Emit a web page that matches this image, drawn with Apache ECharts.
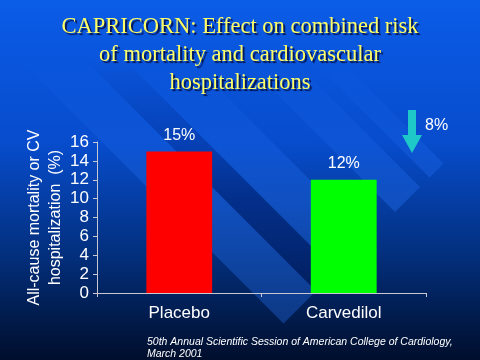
<!DOCTYPE html>
<html>
<head>
<meta charset="utf-8">
<script src="https://cdn.jsdelivr.net/npm/echarts@6/dist/echarts.min.js"></script>
<style>
html,body{margin:0;padding:0;background:#001030;}
#chart{width:480px;height:360px;}
</style>
</head>
<body>
<div id="chart"></div>
<script>
var titleLines = ['CAPRICORN: Effect on combined risk', 'of mortality and cardiovascular', 'hospitalizations'];
var categories = ['Placebo', 'Carvedilol'];
var values = [15, 12];
var barColors = ['#ff0000', '#00ff00'];
var yAxisName = 'All-cause mortality or CV\nhospitalization  (%)';
var reductionText = '8%';
var footnoteLines = ['50th Annual Scientific Session of American College of Cardiology,', 'March 2001'];

function fade(r, g, b, a) {
  return new echarts.graphic.LinearGradient(0, 60, 0, 200, [
    { offset: 0, color: 'rgba(' + r + ',' + g + ',' + b + ',0)' },
    { offset: 1, color: 'rgba(' + r + ',' + g + ',' + b + ',' + a + ')' }], true);
}
// decorative diagonal background stripes (c = y - x bands, ending on x + y = S)
function stripe(c1, c2, S, fill) {
  var pts = [[-400, -400 + c1], [(S - c1) / 2, (S + c1) / 2], [(S - c2) / 2, (S + c2) / 2], [-400, -400 + c2]];
  return { type: 'polygon', silent: true, z: -10, shape: { points: pts }, style: { fill: fill } };
}
var S = 607;
var graphics = [
  { type: 'rect', silent: true, z: -20, shape: { x: 0, y: 0, width: 480, height: 360 },
    style: { fill: new echarts.graphic.LinearGradient(0, 0, 0, 1, [
      { offset: 0, color: '#0b5ce8' },
      { offset: 0.4, color: '#074ccc' },
      { offset: 0.7, color: '#03307f' },
      { offset: 1, color: '#000e2c' }]) } },
  stripe(-25, 40, S, fade(40, 120, 255, 0.32)),
  stripe(-65, -25, S, fade(0, 20, 90, 0.35)),
  stripe(-130, -65, S, fade(40, 120, 255, 0.32)),
  stripe(-233, -183, S, fade(40, 120, 255, 0.32)),
  stripe(-280, -252, S, fade(40, 120, 255, 0.32)),
  // arrow annotation
  { type: 'polygon', z: 10, shape: { points: [[408, 110], [416, 110], [416, 135], [422, 135], [412, 153], [402, 135], [408, 135]] },
    style: { fill: '#1ec8c8' } },
  { type: 'text', z: 10, left: 425, top: 118, style: { text: reductionText, fill: '#ffffff', font: '16px "Liberation Sans", Arial, sans-serif' } },
  { type: 'text', z: 10, left: 147, top: 336, style: { text: footnoteLines.join('\n'), fill: '#ffffff', lineHeight: 12,
      font: 'italic 10.5px "Liberation Sans", Arial, sans-serif' } }
];

var chart = echarts.init(document.getElementById('chart'));
chart.setOption({
  animation: false,
  backgroundColor: 'transparent',
  title: {
    text: titleLines.join('\n'),
    left: 'center',
    top: 8,
    textStyle: {
      color: '#ffff66',
      fontFamily: '"Liberation Serif", "Times New Roman", serif',
      fontWeight: 'normal',
      fontSize: 22.5,
      lineHeight: 28,
      textShadowColor: 'rgba(0,0,40,0.8)',
      textShadowOffsetX: 2,
      textShadowOffsetY: 2,
      textShadowBlur: 1
    }
  },
  graphic: graphics,
  grid: { left: 97, right: 54, top: 142, bottom: 67 },
  xAxis: {
    type: 'category',
    data: categories,
    axisLine: { lineStyle: { color: '#c8c8d0', width: 1 } },
    axisTick: { show: true, length: 4, lineStyle: { color: '#c8c8d0' } },
    axisLabel: { color: '#ffffff', fontSize: 17, margin: 12, fontFamily: '"Liberation Sans", Arial, sans-serif' }
  },
  yAxis: {
    type: 'value',
    min: 0, max: 16, interval: 2,
    name: yAxisName,
    nameLocation: 'middle',
    nameRotate: 90,
    nameGap: 31,
    nameMoveOverlap: false,
    nameTextStyle: { color: '#ffffff', fontSize: 16, lineHeight: 21, fontFamily: '"Liberation Sans", Arial, sans-serif' },
    axisLine: { show: true, lineStyle: { color: '#c8c8d0', width: 1 } },
    axisTick: { show: true, length: 4, lineStyle: { color: '#c8c8d0' } },
    splitLine: { show: false },
    axisLabel: { color: '#ffffff', fontSize: 17, margin: 8, fontFamily: '"Liberation Sans", Arial, sans-serif' }
  },
  series: [{
    type: 'bar',
    data: values.map(function (v, i) { return { value: v, itemStyle: { color: barColors[i] } }; }),
    barWidth: '40%',
    label: {
      show: true, position: 'top', distance: 8,
      color: '#ffffff', fontSize: 16, fontFamily: '"Liberation Sans", Arial, sans-serif',
      formatter: function (p) { return p.value + '%'; }
    }
  }]
});
</script>
</body>
</html>
